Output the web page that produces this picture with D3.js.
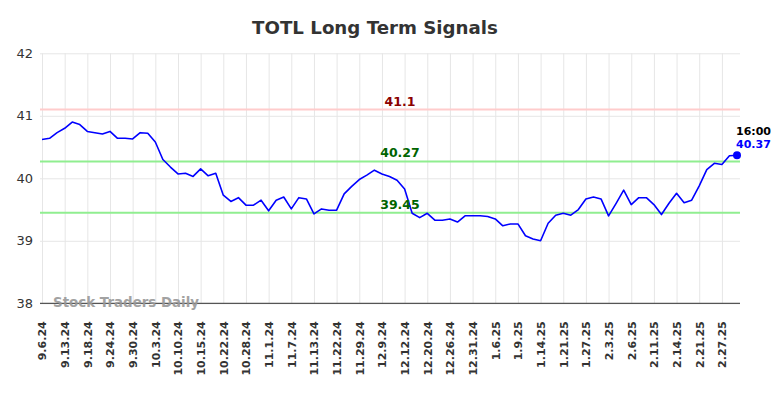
<!DOCTYPE html>
<html><head><meta charset="utf-8">
<script src="https://cdn.jsdelivr.net/npm/d3@7"></script>
<style>body{margin:0;background:#fff}svg{display:block}text{font-family:"DejaVu Sans",sans-serif}</style>
</head><body>
<svg id="c" width="784" height="398"></svg>
<script>
const title = "TOTL Long Term Signals";
const tickLabels = ["9.6.24","9.13.24","9.18.24","9.24.24","9.30.24","10.3.24","10.10.24","10.15.24","10.22.24","10.28.24","11.1.24","11.7.24","11.13.24","11.22.24","11.29.24","12.9.24","12.12.24","12.20.24","12.26.24","12.31.24","1.6.25","1.9.25","1.14.25","1.21.25","1.27.25","2.3.25","2.6.25","2.11.25","2.14.25","2.21.25","2.27.25"];
const prices = [40.62,40.64,40.73,40.80,40.90,40.86,40.75,40.73,40.71,40.75,40.64,40.64,40.63,40.73,40.72,40.58,40.30,40.18,40.07,40.08,40.03,40.15,40.04,40.08,
39.73,39.63,39.69,39.57,39.57,39.65,39.48,39.65,39.70,39.51,39.69,39.67,39.43,39.51,39.49,39.49,39.75,39.87,39.98,40.05,40.13,40.07,40.03,
39.97,39.83,39.44,39.37,39.44,39.33,39.33,39.35,39.30,39.40,39.40,39.40,39.39,39.35,39.24,39.27,39.27,39.08,39.03,39.00,39.28,39.41,39.44,
39.41,39.50,39.67,39.70,39.67,39.40,39.60,39.81,39.58,39.69,39.69,39.58,39.42,39.60,39.76,39.61,39.65,39.88,40.14,40.24,40.22,40.36,40.37];
const yTicks = [38,39,40,41,42];
const resistance = [41.1];
const supports = [40.27,39.45];
const lastTime = "16:00";
const watermark = "Stock Traders Daily";

const svg = d3.select("#c");
const x = d3.scaleLinear().domain([0, prices.length-1]).range([42, 737]);
const y = d3.scaleLinear().domain([38, 42]).range([303.3, 53.3]);
const tickIdx = tickLabels.map((d,i)=>i*3);

// title
svg.append("text").attr("x",375).attr("y",34).attr("text-anchor","middle")
  .attr("font-size",18.2).attr("font-weight","bold").attr("fill","#333").text(title);

// horizontal grid
const yAxis = d3.axisLeft(y).tickValues(yTicks).tickSize(-700).tickFormat(d3.format("d"));
const gy = svg.append("g").attr("transform","translate(40,0)").call(yAxis);
gy.select(".domain").remove();
gy.selectAll(".tick line").attr("stroke","#e6e6e6");
gy.selectAll(".tick text").attr("x",-7).attr("font-size",13).attr("fill","#333")
  .style("font-family","'DejaVu Sans',sans-serif");

// vertical grid + x labels
const xAxis = d3.axisBottom(x).tickValues(tickIdx).tickSize(-250).tickFormat((d,i)=>tickLabels[i]);
const gx = svg.append("g").attr("transform","translate(0,303.3)").call(xAxis);
gx.select(".domain").remove();
gx.selectAll(".tick line").attr("stroke","#e6e6e6");
gx.selectAll(".tick text").attr("transform","rotate(-90)").attr("x",-18).attr("y",0).attr("dy","0.35em")
  .attr("text-anchor","end").attr("font-size",11).attr("font-weight","bold").attr("fill","#333")
  .style("font-family","'DejaVu Sans',sans-serif");

// bottom axis line
svg.append("line").attr("x1",40).attr("x2",740).attr("y1",y(38)).attr("y2",y(38)).attr("stroke","#555").attr("stroke-width",1.2);

// level lines
resistance.forEach(v=>{
  svg.append("line").attr("x1",40).attr("x2",740).attr("y1",y(v)).attr("y2",y(v)).attr("stroke","#ffcccc").attr("stroke-width",2);
});
supports.forEach(v=>{
  svg.append("line").attr("x1",40).attr("x2",740).attr("y1",y(v)).attr("y2",y(v)).attr("stroke","#90ee90").attr("stroke-width",2);
});

// watermark
svg.append("text").attr("x",53).attr("y",307).attr("font-size",13.4).attr("font-weight","bold")
  .attr("fill","#999").attr("opacity",0.9).text(watermark);

// price line
svg.append("path").datum(prices).attr("fill","none").attr("stroke","#0000ff").attr("stroke-width",1.6)
  .attr("stroke-linejoin","round")
  .attr("d", d3.line().x((d,i)=>x(i)).y(d=>y(d)));

// level labels
resistance.forEach(v=>{
  svg.append("text").attr("x",400).attr("y",y(v)-4).attr("text-anchor","middle").attr("font-size",12.5)
    .attr("font-weight","bold").attr("fill","#8b0000").text(v);
});
supports.forEach(v=>{
  svg.append("text").attr("x",400).attr("y",y(v)-4).attr("text-anchor","middle").attr("font-size",12.5)
    .attr("font-weight","bold").attr("fill","#006400").text(v);
});

// last point
const li = prices.length-1;
svg.append("circle").attr("cx",x(li)).attr("cy",y(prices[li])).attr("r",4).attr("fill","#0000ff");
svg.append("text").attr("x",736).attr("y",135).attr("font-size",11).attr("font-weight","bold").attr("fill","#000").text(lastTime);
svg.append("text").attr("x",736).attr("y",148).attr("font-size",11).attr("font-weight","bold").attr("fill","#0000ff").text(prices[li].toFixed(2));
</script>
</body></html>
